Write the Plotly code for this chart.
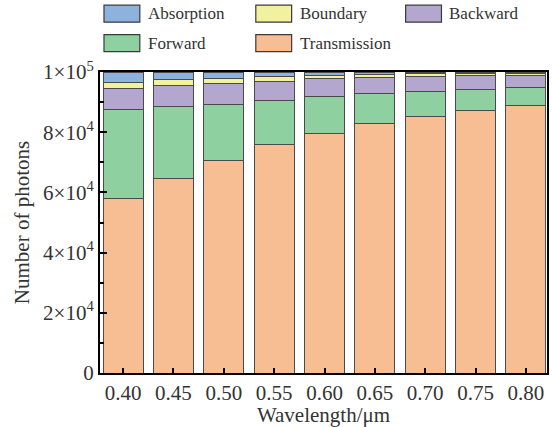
import plotly.graph_objects as go

wavelengths = ["0.40", "0.45", "0.50", "0.55", "0.60", "0.65", "0.70", "0.75", "0.80"]

# photon counts (thousands) per outcome, stacked bottom to top
transmission = [58.0, 64.5, 70.7, 75.8, 79.6, 83.0, 85.1, 87.2, 88.8]
forward = [29.7, 23.9, 18.5, 14.8, 12.2, 9.8, 8.4, 7.1, 6.2]
backward = [6.8, 7.0, 7.0, 6.4, 6.0, 5.3, 4.9, 4.6, 4.0]
boundary = [1.9, 2.0, 1.8, 1.6, 1.2, 1.0, 1.0, 0.6, 0.6]
absorption = [3.6, 2.6, 2.0, 1.4, 1.0, 0.9, 0.6, 0.5, 0.4]

y_tick_values = [0, 20000, 40000, 60000, 80000, 100000]
y_tick_labels = ["0", "2×10<sup>4</sup>", "4×10<sup>4</sup>", "6×10<sup>4</sup>",
                 "8×10<sup>4</sup>", "1×10<sup>5</sup>"]

series = [
    ("Transmission", transmission, "#F7BE94"),
    ("Forward", forward, "#8FD0A0"),
    ("Backward", backward, "#B3A7CF"),
    ("Boundary", boundary, "#F1F1A0"),
    ("Absorption", absorption, "#8DB2DE"),
]

FONT = "Liberation Serif"
TXT = "#333333"
fig = go.Figure()
for name, vals, col in series:
    fig.add_trace(go.Bar(
        x=wavelengths, y=[v * 1000 for v in vals], name=name,
        marker=dict(color=col, line=dict(color="#4a4a4a", width=1)),
        showlegend=False,
    ))

W, H = 552, 427
PL, PR, PT, PB = 100, 549, 72, 374  # plot area in window pixels
L, R, T, B = PL, W - PR, PT, H - PB
pw, ph = PR - PL, PB - PT
def px(x):
    return (x - PL) / pw
def py(y):
    return (PB - y) / ph

# manual legend (large swatches like the reference)
legend_order = ["Absorption", "Boundary", "Backward", "Forward", "Transmission"]
colors = {n: c for n, _, c in series}
col_x = [104, 256.5, 407]
row_y = [13.5, 43]
shapes = []
annotations = []
for i, name in enumerate(legend_order):
    r, c = divmod(i, 3)
    x0 = col_x[c]
    yc = row_y[r]
    shapes.append(dict(type="rect", xref="paper", yref="paper",
                       x0=px(x0), x1=px(x0 + 36), y0=py(yc + 8.5), y1=py(yc - 8.5),
                       fillcolor=colors[name], line=dict(color="#3a3a3a", width=1.2)))
    annotations.append(dict(xref="paper", yref="paper", x=px(x0 + 42), y=py(yc),
                            xanchor="left", yanchor="middle", showarrow=False,
                            text=name, font=dict(family=FONT, size=17, color=TXT)))

fig.update_layout(
    width=W, height=H,
    margin=dict(l=L, r=R, t=T, b=B),
    barmode="stack", bargap=0.21,
    plot_bgcolor="white", paper_bgcolor="white",
    font=dict(family=FONT, size=21, color=TXT),
    shapes=shapes, annotations=annotations,
)
fig.update_xaxes(
    type="category", range=[-0.46, 8.42],
    showline=True, linecolor="black", linewidth=2, mirror=True,
    ticks="inside", ticklen=5, tickwidth=2, tickcolor="black",
    tickfont=dict(family=FONT, size=21, color=TXT),
    title=dict(text="Wavelength/μm", font=dict(family=FONT, size=21, color=TXT), standoff=4),
    showgrid=False,
)
fig.update_yaxes(
    range=[0, 100000],
    tickvals=y_tick_values, ticktext=y_tick_labels,
    showline=True, linecolor="black", linewidth=2, mirror=True,
    ticks="inside", ticklen=7, tickwidth=2, tickcolor="black",
    minor=dict(dtick=10000, ticks="inside", ticklen=4, tickwidth=2, tickcolor="black"),
    tickfont=dict(family=FONT, size=21, color=TXT),
    title=dict(text="Number of photons", font=dict(family=FONT, size=21, color=TXT), standoff=8),
    showgrid=False, zeroline=False,
)

fig.write_html("out.html", config={"displayModeBar": False},
               post_script="document.body.style.margin='0px';")
